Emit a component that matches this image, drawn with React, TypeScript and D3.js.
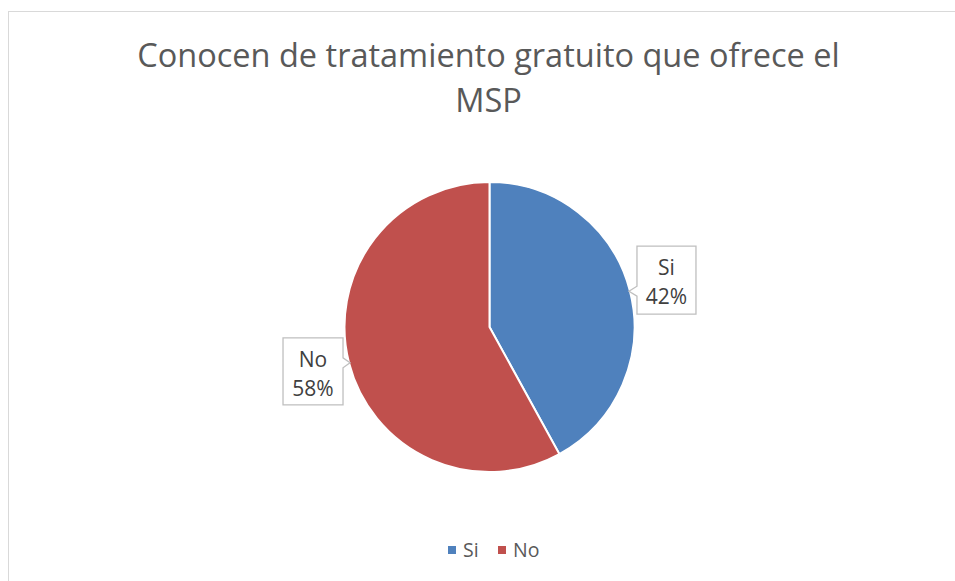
import React from "react";
import * as d3 from "d3";

const categories = ["Si", "No"];
const values = [42, 58];
const colors = ["#4F81BD", "#C0504D"];
const titleLines = ["Conocen de tratamiento gratuito que ofrece el", "MSP"];

const W = 955;
const H = 581;
const cx = 489.5;
const cy = 327;
const R = 145;
const FONT = "'Open Sans', 'Noto Sans', sans-serif";

// per-label box offsets relative to the callout tip (layout only)
const boxLayout = [
  { side: "right", dx: 8, dyTop: -45, w: 59, h: 68 },
  { side: "left", dx: -7, dyTop: -25, w: 60, h: 67 },
];

export default function App() {
  const pie = d3.pie<number>().sort(null).value((d) => d)(values);
  const arc = d3.arc<d3.PieArcDatum<number>>().innerRadius(0).outerRadius(R);
  const total = d3.sum(values);

  return (
    <svg
      width={W}
      height={H}
      style={{ position: "absolute", left: 0, top: 0, background: "#fff" }}
    >
      <rect x={8.5} y={11.5} width={W + 20} height={H + 20} fill="#fff" stroke="#d9d9d9" strokeWidth={1} />
      {titleLines.map((t, i) => (
        <text
          key={i}
          x={488.5}
          y={67 + i * 45}
          textAnchor="middle"
          fontFamily={FONT}
          fontSize={32.5}
          fill="#595959"
        >
          {t}
        </text>
      ))}
      <g transform={`translate(${cx},${cy})`}>
        {pie.map((p, i) => (
          <path key={i} d={arc(p) || ""} fill={colors[i]} stroke="#fff" strokeWidth={2} />
        ))}
      </g>
      {pie.map((p, i) => {
        const mid = (p.startAngle + p.endAngle) / 2;
        const tx = cx + (R - 1) * Math.sin(mid);
        const ty = cy - (R - 1) * Math.cos(mid);
        const L = boxLayout[i];
        let x0: number, x1: number;
        if (L.side === "right") {
          x0 = tx + L.dx;
          x1 = x0 + L.w;
        } else {
          x1 = tx + L.dx;
          x0 = x1 - L.w;
        }
        const y0 = ty + L.dyTop;
        const y1 = y0 + L.h;
        const n1 = ty - 5;
        const n2 = ty + 5;
        const d =
          L.side === "right"
            ? `M${x0},${y0} H${x1} V${y1} H${x0} V${n2} L${tx},${ty} L${x0},${n1} Z`
            : `M${x0},${y0} H${x1} V${n1} L${tx},${ty} L${x1},${n2} V${y1} H${x0} Z`;
        const pct = Math.round((values[i] / total) * 100) + "%";
        const mx = (x0 + x1) / 2;
        return (
          <g key={i}>
            <path d={d} fill="#fff" stroke="#bfbfbf" strokeWidth={1.3} />
            <text x={mx} y={y0 + 29} textAnchor="middle" fontFamily={FONT} fontSize={21} fill="#404040">
              {categories[i]}
            </text>
            <text x={mx} y={y0 + 58} textAnchor="middle" fontFamily={FONT} fontSize={21} fill="#404040">
              {pct}
            </text>
          </g>
        );
      })}
      {categories.map((c, i) => {
        const lx = 448 + i * 50;
        return (
          <g key={c}>
            <rect x={lx} y={546} width={8} height={8} fill={colors[i]} />
            <text x={lx + 15} y={557} fontFamily={FONT} fontSize={19.5} fill="#595959">
              {c}
            </text>
          </g>
        );
      })}
    </svg>
  );
}
